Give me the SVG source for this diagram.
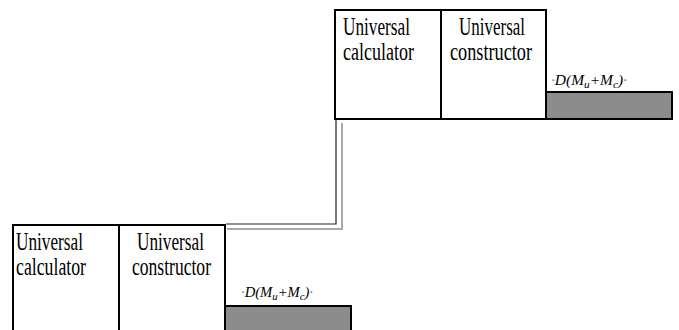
<svg xmlns="http://www.w3.org/2000/svg" width="679" height="330" viewBox="0 0 679 330">
<style>
.box{fill:#fff;stroke:#000;stroke-width:2}
.bar{fill:#8c8c8c;stroke:#000;stroke-width:2}
.t{font-size:25px;fill:#000}
.m{font-size:15px;font-style:italic;fill:#000}
.dot{fill:#777}
</style>
<rect width="679" height="330" fill="#fff"/>
<g id="connectors" fill="none">
<path d="M336,119 V224 H226" stroke="#222" stroke-width="1.2"/>
<path d="M342,123 V229 H227" stroke="#aaa" stroke-width="2"/>
</g>
<g id="top-calculator" font-family="Liberation Serif, DejaVu Serif, serif">
<rect class="box" x="335" y="10" width="106" height="109"/>
<text class="t" x="343" y="35" textLength="67" lengthAdjust="spacingAndGlyphs">Universal</text>
<text class="t" x="343" y="60" textLength="71" lengthAdjust="spacingAndGlyphs">calculator</text>
</g>
<g id="top-constructor" font-family="Liberation Serif, DejaVu Serif, serif">
<rect class="box" x="441" y="10" width="105" height="109"/>
<text class="t" x="459" y="35" textLength="66" lengthAdjust="spacingAndGlyphs">Universal</text>
<text class="t" x="450" y="60" textLength="82" lengthAdjust="spacingAndGlyphs">constructor</text>
</g>
<g id="top-description" font-family="Liberation Serif, DejaVu Serif, serif">
<rect class="bar" x="546" y="92" width="126" height="27"/>
<text class="m" x="551" y="85" textLength="76" lengthAdjust="spacingAndGlyphs"><tspan class="dot">·</tspan>D(M<tspan font-size="11" dy="3">u</tspan><tspan dy="-3">+M</tspan><tspan font-size="11" dy="3">c</tspan><tspan dy="-3">)</tspan><tspan class="dot">·</tspan></text>
</g>
<g id="bottom-calculator" font-family="Liberation Serif, DejaVu Serif, serif">
<rect class="box" x="13" y="225" width="106" height="112"/>
<text class="t" x="16" y="250" textLength="67" lengthAdjust="spacingAndGlyphs">Universal</text>
<text class="t" x="16" y="275" textLength="70" lengthAdjust="spacingAndGlyphs">calculator</text>
</g>
<g id="bottom-constructor" font-family="Liberation Serif, DejaVu Serif, serif">
<rect class="box" x="119" y="225" width="106" height="112"/>
<text class="t" x="137" y="250" textLength="67" lengthAdjust="spacingAndGlyphs">Universal</text>
<text class="t" x="132" y="275" textLength="79" lengthAdjust="spacingAndGlyphs">constructor</text>
</g>
<g id="bottom-description" font-family="Liberation Serif, DejaVu Serif, serif">
<rect class="bar" x="225" y="306" width="126" height="30"/>
<text class="m" x="241" y="297" textLength="72" lengthAdjust="spacingAndGlyphs"><tspan class="dot">·</tspan>D(M<tspan font-size="11" dy="3">u</tspan><tspan dy="-3">+M</tspan><tspan font-size="11" dy="3">c</tspan><tspan dy="-3">)</tspan><tspan class="dot">·</tspan></text>
</g>
</svg>
